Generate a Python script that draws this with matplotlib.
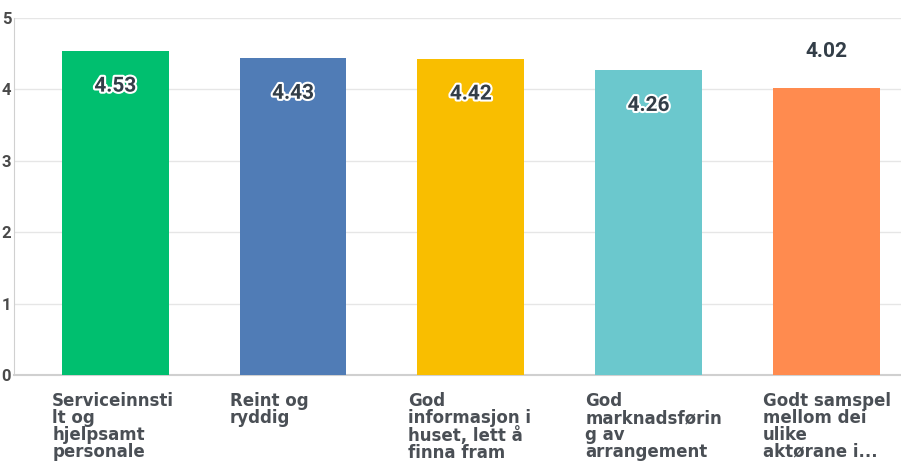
import matplotlib.pyplot as plt
import matplotlib.patheffects as pe
import numpy as np

# values
categories = [
    "Serviceinnsti\nlt og\nhjelpsamt\npersonale",
    "Reint og\nryddig",
    "God\ninformasjon i\nhuset, lett å\nfinna fram",
    "God\nmarknadsførin\ng av\narrangement",
    "Godt samspel\nmellom dei\nulike\naktørane i...",
]
scores = [4.53, 4.43, 4.42, 4.26, 4.02]
colors = ['#00bf6f', '#507cb6', '#f9be00', '#6bc8cd', '#ff8b4f']
inside = [True, True, True, True, False]
yticks = [0, 1, 2, 3, 4, 5]

text_col = '#333e48'
plt.rcParams['font.family'] = ['Roboto', 'DejaVu Sans']

fig = plt.figure(figsize=(9.01, 4.67), dpi=100)
ax = fig.add_axes([0.0155, 0.197, 0.9845, 0.7655])

x = np.arange(len(scores))
bar_w = 0.6
bars = ax.bar(x, scores, bar_w, color=colors, zorder=3)

ax.set_ylim(0, 5)
ax.set_xlim(-0.57, 4.42)
ax.set_yticks(yticks)
ax.set_yticklabels([str(t) for t in yticks], fontsize=12, fontweight='bold', color='#4a4a4a')
ax.tick_params(axis='y', length=0, pad=2)
ax.set_xticks([])
ax.grid(True, axis='y', color='#e6e6e6', linewidth=1, zorder=0)

for side in ['top', 'right']:
    ax.spines[side].set_visible(False)
ax.spines['left'].set_color('#d0d0d0')
ax.spines['bottom'].set_color('#d0d0d0')
ax.spines['bottom'].set_linewidth(1.5)

# value labels
for xi, v, ins in zip(x, scores, inside):
    if ins:
        ax.text(xi, v - 0.49, f'{v:.2f}', ha='center', va='center', fontsize=15,
                fontweight='bold', color=text_col, zorder=4,
                path_effects=[pe.withStroke(linewidth=3, foreground='white')])
    else:
        ax.text(xi, v + 0.5, f'{v:.2f}', ha='center', va='center', fontsize=15,
                fontweight='bold', color=text_col, zorder=4)

# category labels under the bars
for xi, lab in zip(x, categories):
    ax.text(xi - bar_w / 2 - 0.055, -0.24, lab, ha='left', va='top', fontsize=12,
            fontweight='bold', color='#4a4f55', linespacing=0.92,
            family=['DejaVu Sans'], clip_on=False)

fig.savefig('out.png', dpi=100)
